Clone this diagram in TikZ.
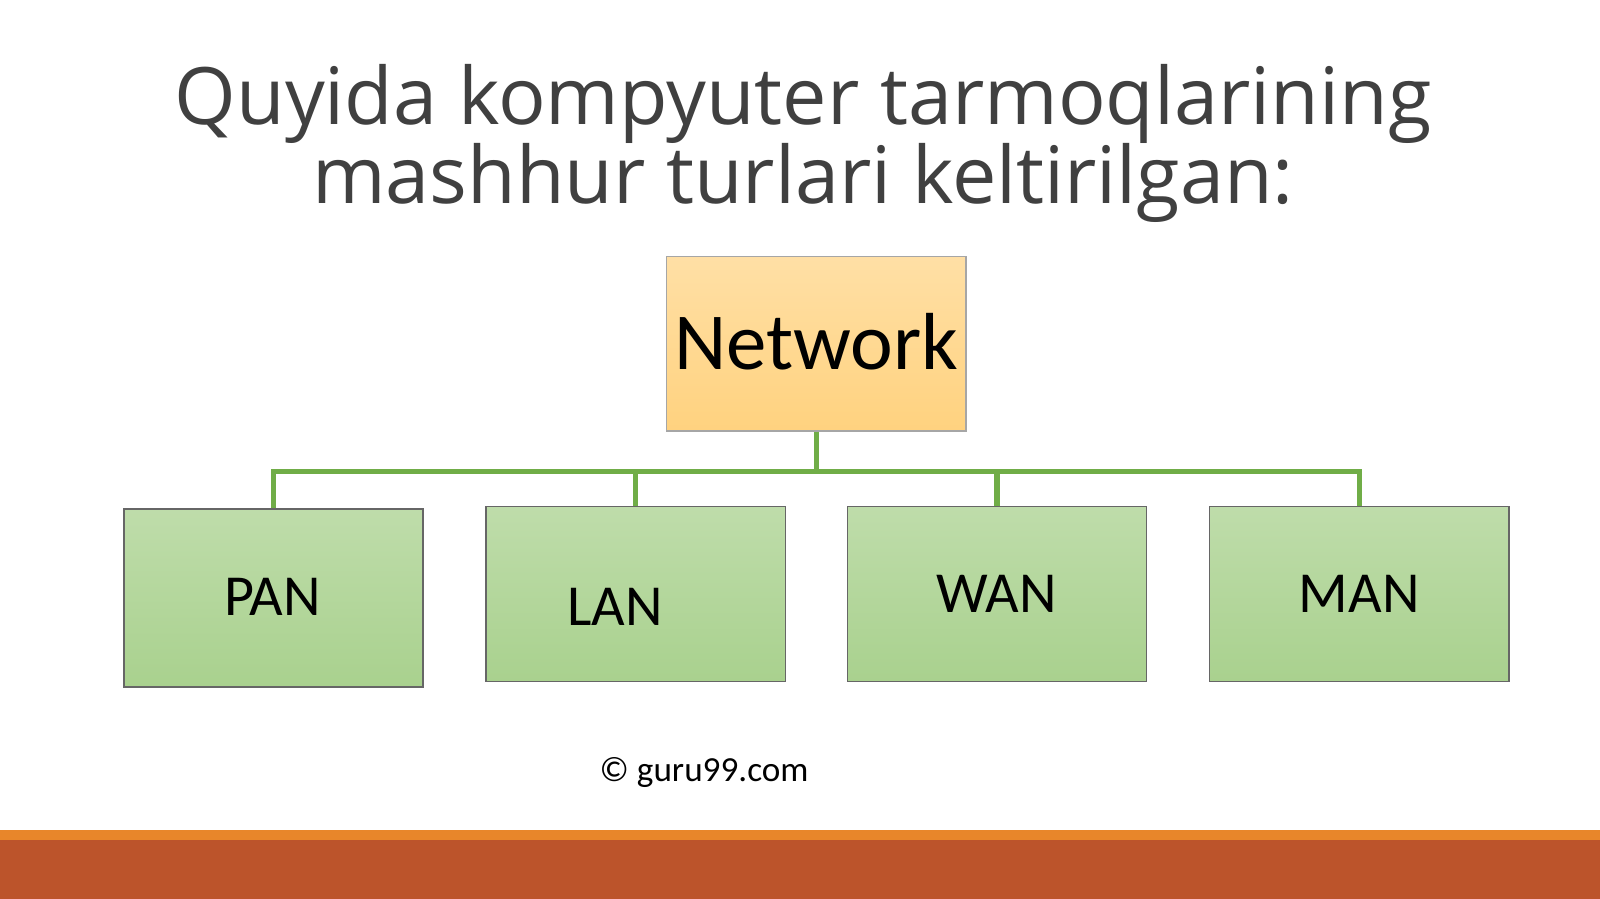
\documentclass[tikz,border=0pt]{standalone}
\usepackage{fontspec}
\setmainfont{Open Sans}
\newfontfamily\boxfont{Carlito}
\usetikzlibrary{positioning}
\definecolor{titlegray}{HTML}{404040}
\definecolor{netfill}{HTML}{FFD27F}
\definecolor{leaffill}{HTML}{A9D18E}
\definecolor{linkgreen}{HTML}{70AD47}
\definecolor{barorange}{HTML}{E8862A}
\definecolor{barrust}{HTML}{BC542B}
\tikzset{
  netbox/.style={draw=gray!70, top color=netfill!70, bottom color=netfill, minimum width=2.99cm, minimum height=1.74cm, inner sep=0pt, font=\boxfont\fontsize{23}{26}\selectfont},
  leafbox/.style={draw=gray!80!black, top color=leaffill!75, bottom color=leaffill, minimum width=2.99cm, minimum height=1.75cm, inner sep=0pt},
  leaflabel/.style={font=\boxfont\fontsize{16.5}{18}\selectfont},
  titleline/.style={text=titlegray, font=\fontsize{22.5}{26}\selectfont},
  link/.style={draw=linkgreen, line width=1.5pt}
}
\begin{document}
\begin{tikzpicture}[x=0.0102cm, y=-0.0102cm]
\useasboundingbox (0,0) rectangle (1568,881);
\fill[white] (0,0) rectangle (1568,881);
% bottom band
\fill[barorange] (0,813) rectangle (1568,823);
\fill[barrust] (0,823) rectangle (1568,881);
% title
\node[titleline, anchor=base] (title1) at (787,122) {Quyida kompyuter tarmoqlarining};
\node[titleline, anchor=base] (title2) at (787,199) {mashhur turlari keltirilgan:};
% boxes
\node[netbox] (net) at (800,337) {};
\node[font=\boxfont\fontsize{23}{26}\selectfont, anchor=base] at (800,362) {Network};
\node[leafbox, minimum height=1.78cm] (pan) at (268,586) {};
\node[leafbox] (lan) at (623,582) {};
\node[leafbox] (wan) at (977,582) {};
\node[leafbox] (man) at (1332,582) {};
\node[leaflabel, anchor=base] at (267,603) {PAN};
\node[leaflabel, anchor=base] at (603,613) {LAN};
\node[leaflabel, anchor=base] at (977,600) {WAN};
\node[leaflabel, anchor=base] at (1332,600) {MAN};
% links
\coordinate (hub) at (800,462);
\draw[link] (net.south) -- (hub);
\draw[link] (pan.north) |- (hub);
\draw[link] (lan.north) |- (hub);
\draw[link] (wan.north) |- (hub);
\draw[link] (man.north) |- (hub);
% credit
\node[font=\boxfont\fontsize{10}{12}\selectfont, anchor=base] (credit) at (690,766) {© guru99.com};
\end{tikzpicture}
\end{document}
